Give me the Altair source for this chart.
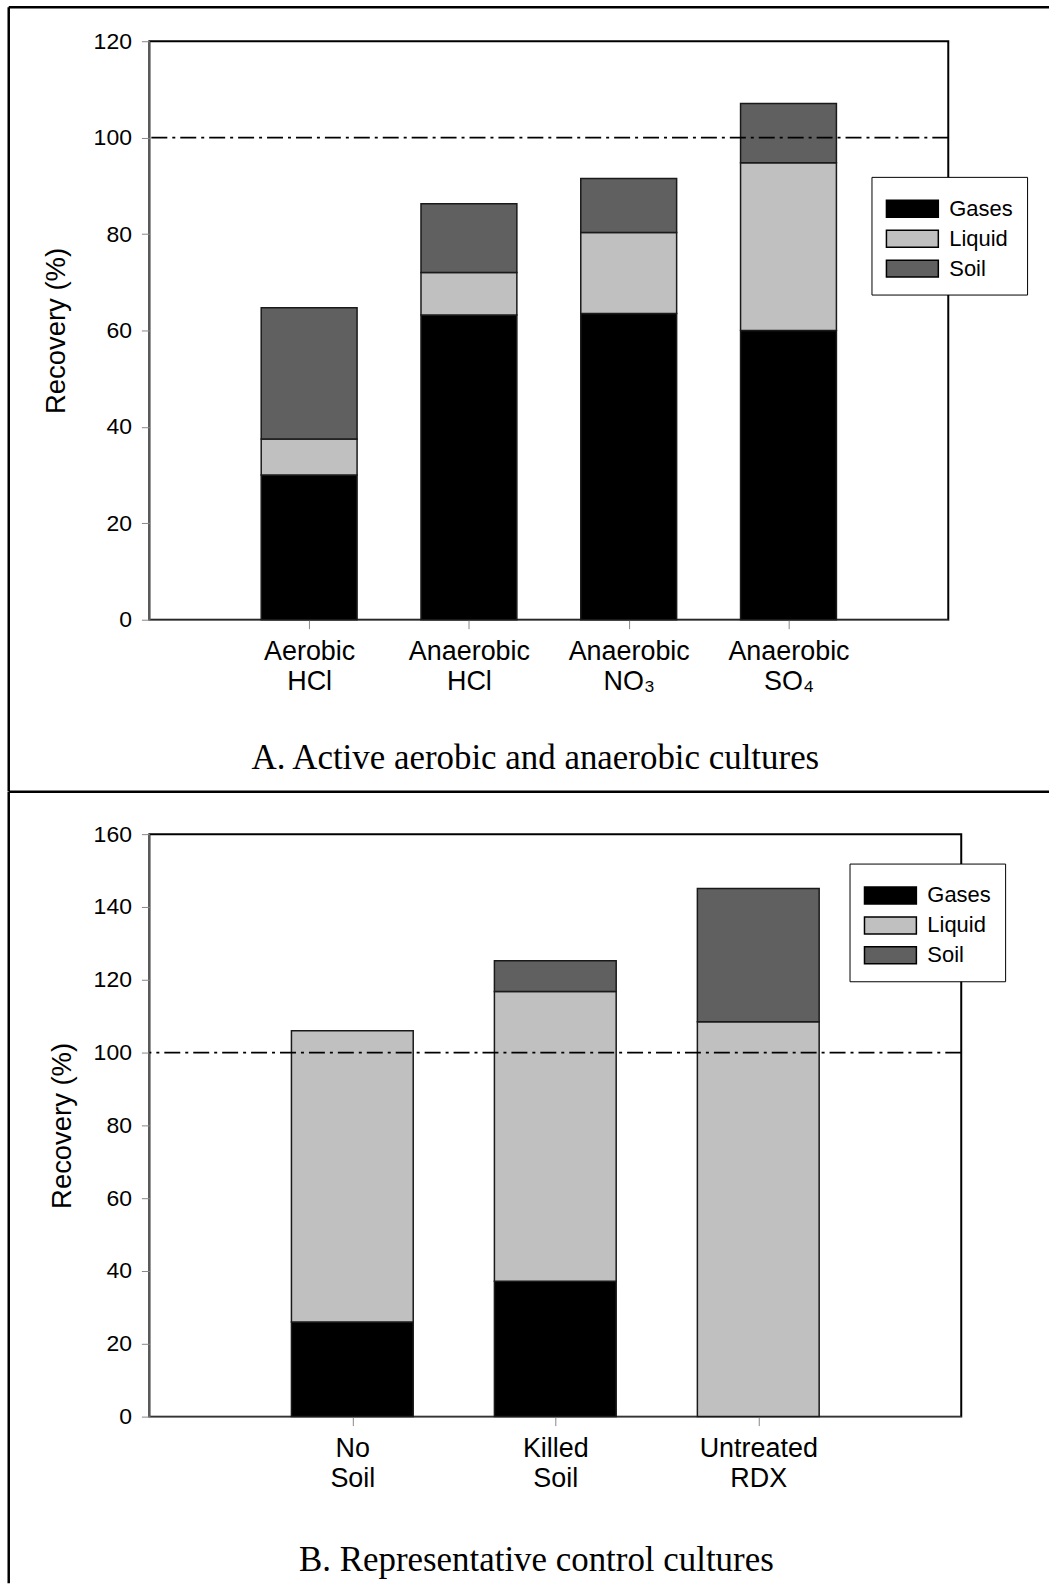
import json
import altair as alt
import pandas as pd

# ---------------- data ----------------
components = ["Gases", "Liquid", "Soil"]
comp_colors = ["#000000", "#c0c0c0", "#606060"]

# Panel A: active aerobic and anaerobic cultures
labels_a_line1 = ["Aerobic", "Anaerobic", "Anaerobic", "Anaerobic"]
labels_a_line2 = ["HCl", "HCl", "NO\u2083", "SO\u2084"]
gases_a = [30.0, 63.2, 63.5, 60.0]
liquid_a = [7.5, 8.8, 16.8, 34.8]
soil_a = [27.2, 14.3, 11.2, 12.3]
yticks_a = [0, 20, 40, 60, 80, 100, 120]

# Panel B: representative control cultures
labels_b_line1 = ["No", "Killed", "Untreated"]
labels_b_line2 = ["Soil", "Soil", "RDX"]
gases_b = [26.0, 37.2, 0.0]
liquid_b = [80.0, 79.6, 108.5]
soil_b = [0.0, 8.4, 36.6]
yticks_b = [0, 20, 40, 60, 80, 100, 120, 140, 160]

reference_value = [100]
caption_a = "A. Active aerobic and anaerobic cultures"
caption_b = "B. Representative control cultures"

SANS = "Liberation Sans"
SERIF = "Liberation Serif"
LEGEND_PATH = "M-1,-0.5L2.06,-0.5L2.06,0.5L-1,0.5Z"


def panel(l1, l2, g, l, s, yticks, w, h, legxy, caption, cap_xy, frame, title_x):
    n = len(l1)
    rows = []
    for i in range(n):
        for k, vals in enumerate([g, l, s]):
            if vals[i] > 0:
                rows.append({"idx": i + 1, "comp": components[k],
                             "value": vals[i], "order": k})
    df = pd.DataFrame(rows)
    label_arr = json.dumps([[a, b] for a, b in zip(l1, l2)], ensure_ascii=False)

    bars = (
        alt.Chart(df)
        .transform_stack(stack="value", groupby=["idx"], as_=["y0", "y1"],
                         sort=[alt.SortField("order", order="ascending")])
        .transform_calculate(xl="datum.idx - 0.3", xr="datum.idx + 0.3")
        .mark_bar(stroke="#1a1a1a", strokeWidth=1.5)
        .encode(
            x=alt.X("xl:Q",
                    scale=alt.Scale(domain=[0, n + 1], nice=False, zero=False),
                    axis=alt.Axis(values=list(range(1, n + 1)), title=None,
                                  grid=False, labelExpr=f"{label_arr}[datum.value - 1]",
                                  labelFont=SANS, labelFontSize=27,
                                  labelLineHeight=30, labelPadding=10,
                                  tickSize=9, labelColor="black")),
            x2="xr:Q",
            y=alt.Y("y0:Q",
                    scale=alt.Scale(domain=[yticks[0], yticks[-1]], nice=False),
                    axis=alt.Axis(values=yticks, title="Recovery (%)", grid=False,
                                  labelFont=SANS, labelFontSize=23, labelPadding=10,
                                  tickSize=8, labelColor="black",
                                  titleFont=SANS, titleFontSize=27.5,
                                  titleFontWeight="normal", titleColor="black",
                                  titleX=title_x, titleY=h / 2, titleAngle=270,
                                  titleAlign="center", titleBaseline="middle")),
            y2="y1:Q",
            color=alt.Color("comp:N",
                            scale=alt.Scale(domain=components, range=comp_colors),
                            legend=alt.Legend(orient="none", legendX=legxy[0],
                                              legendY=legxy[1], title=None,
                                              strokeColor="black", fillColor="white",
                                              padding=14, symbolType=LEGEND_PATH,
                                              symbolSize=1156, symbolStrokeColor="black",
                                              symbolStrokeWidth=1.5, symbolOpacity=1,
                                              labelFont=SANS, labelFontSize=22,
                                              labelColor="black", labelOffset=28,
                                              labelExpr="datum.label + '\u2003'",
                                              rowPadding=-3.5)),
        )
    )

    ref = (
        alt.Chart(pd.DataFrame({"ref": reference_value}))
        .mark_rule(color="black", strokeWidth=1.8, strokeDash=[16, 5, 3, 5])
        .encode(y="ref:Q")
    )

    one = alt.Data(values=[{"k": 0}])
    xl, xr, yt, yb = frame
    left_line = alt.Chart(one).mark_rule(color="black", strokeWidth=2.5).encode(
        x=alt.value(xl), y=alt.value(yt), y2=alt.value(yb))
    top_line = alt.Chart(one).mark_rule(color="black", strokeWidth=2.5).encode(
        x=alt.value(xl), x2=alt.value(xr), y=alt.value(yt))
    cap = alt.Chart(one).mark_text(text=caption, font=SERIF, fontSize=35,
                                   align="center", baseline="alphabetic",
                                   color="black").encode(
        x=alt.value(cap_xy[0]), y=alt.value(cap_xy[1]))

    return alt.layer(bars, ref, left_line, top_line, cap).properties(
        width=w, height=h,
        view=alt.ViewBackground(stroke="black", strokeWidth=2))


chart_a = panel(labels_a_line1, labels_a_line2, gases_a, liquid_a, soil_a, yticks_a,
                801, 580, (724, 136), caption_a, (387, 730),
                (-141, 902, -34, 752), -93)
chart_b = panel(labels_b_line1, labels_b_line2, gases_b, liquid_b, soil_b, yticks_b,
                814, 584, (702, 29.5), caption_b, (388, 739),
                (-141, 902, -42.5, 751), -87)

chart = (
    alt.vconcat(chart_a, chart_b, spacing=215, bounds="flush")
    .resolve_scale(x="independent", y="independent", color="independent")
    .resolve_legend(color="independent")
    .properties(padding={"left": 5.75, "top": 2.25, "right": 0, "bottom": 0})
    .configure_view(stroke="black", strokeWidth=2)
    .configure_axis(domainColor="black", domainWidth=2, tickColor="black", tickWidth=1.5)
    .configure(background="white")
)

chart.save("out.html", embed_options={"renderer": "svg", "actions": False})
